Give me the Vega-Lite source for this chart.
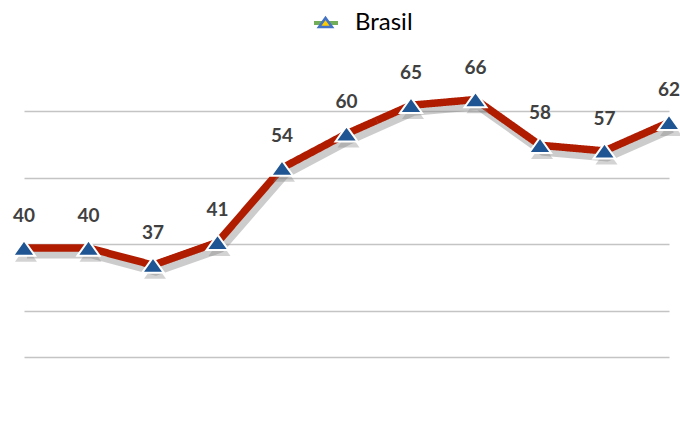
{
  "$schema": "https://vega.github.io/schema/vega-lite/v6.json",
  "width": 645,
  "height": 357,
  "autosize": {"type": "none"},
  "padding": {"left": 24, "top": 0, "right": 11, "bottom": 64},
  "background": "white",
  "config": {"view": {"stroke": null}},
  "data": {
    "values": [
      {"i": 1, "v": 40, "serie": "Brasil"},
      {"i": 2, "v": 40, "serie": "Brasil"},
      {"i": 3, "v": 37, "serie": "Brasil"},
      {"i": 4, "v": 41, "serie": "Brasil"},
      {"i": 5, "v": 54, "serie": "Brasil"},
      {"i": 6, "v": 60, "serie": "Brasil"},
      {"i": 7, "v": 65, "serie": "Brasil"},
      {"i": 8, "v": 66, "serie": "Brasil"},
      {"i": 9, "v": 58, "serie": "Brasil"},
      {"i": 10, "v": 57, "serie": "Brasil"},
      {"i": 11, "v": 62, "serie": "Brasil"}
    ]
  },
  "encoding": {
    "x": {
      "field": "i",
      "type": "quantitative",
      "scale": {"domain": [1, 11], "nice": false, "zero": false},
      "axis": {"labels": false, "ticks": false, "grid": false, "title": null, "domainColor": "#c4c4c4", "domainWidth": 1.6}
    },
    "y": {
      "field": "v",
      "type": "quantitative",
      "scale": {"domain": [20.91, 83.43], "nice": false, "zero": false},
      "axis": {"values": [29, 40.67, 52.33, 64], "labels": false, "ticks": false, "domain": false, "grid": true, "gridColor": "#c4c4c4", "gridWidth": 1.6, "title": null}
    }
  },
  "layer": [
    {
      "mark": {"type": "line", "color": "#808080", "opacity": 0.4, "strokeWidth": 9, "yOffset": 6, "xOffset": 3, "strokeJoin": "round", "clip": false}
    },
    {
      "mark": {"type": "line", "color": "#b01c00", "strokeWidth": 7.5, "strokeJoin": "round", "clip": false},
      "encoding": {
        "strokeDash": {
          "field": "serie",
          "type": "nominal",
          "scale": {"range": [[1, 0]]},
          "legend": {
            "orient": "none",
            "legendX": 288,
            "legendY": 9,
            "title": null,
            "padding": 0,
            "symbolType": "stroke",
            "symbolSize": 576,
            "symbolStrokeWidth": 4,
            "labelFont": "Lato",
            "labelFontSize": 24,
            "labelColor": "#000000",
            "labelOffset": 15,
            "encoding": {"symbols": {"stroke": {"value": "#72ad5a"}, "strokeWidth": {"value": 4}, "opacity": {"value": 1}}}
          }
        }
      }
    },
    {
      "mark": {"type": "point", "filled": true, "color": "#808080", "opacity": 0.35, "size": 484, "yOffset": 6, "xOffset": 2, "shape": "M-1,0.7L0,-0.7L1,0.7Z", "clip": false}
    },
    {
      "mark": {"type": "point", "filled": true, "size": 484, "stroke": "white", "strokeWidth": 2, "fill": "#1f5593", "opacity": 1, "clip": false},
      "encoding": {
        "shape": {
          "field": "serie",
          "type": "nominal",
          "scale": {"domain": ["Brasil"], "range": ["M-1,0.7L0,-0.7L1,0.7Z"]},
          "legend": {
            "orient": "none",
            "legendX": 293.5,
            "legendY": 14.5,
            "title": null,
            "padding": 0,
            "symbolSize": 169,
            "labelExpr": "''",
            "encoding": {"symbols": {"shape": {"value": "triangle-up"}, "fill": {"value": "#ffcc00"}, "stroke": {"value": "#4472c4"}, "strokeWidth": {"value": 2.5}, "opacity": {"value": 1}}}
          }
        }
      }
    },
    {
      "mark": {"type": "text", "dy": -32, "font": "Lato", "fontWeight": "bold", "fontSize": 19, "color": "#404040", "baseline": "middle", "align": "center", "clip": false},
      "encoding": {"text": {"field": "v", "type": "quantitative"}}
    }
  ]
}
